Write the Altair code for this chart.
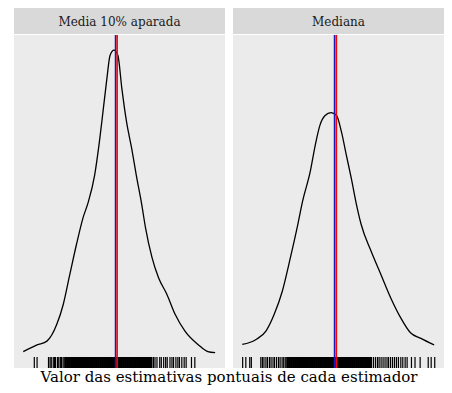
import altair as alt
import pandas as pd

panel_titles = ["Media 10% aparada", "Mediana"]
x_title = "Valor das estimativas pontuais de cada estimador"

true_value = 0.0
mean_estimates = [0.04, 0.045]

dens_left_x = [-2.34, -1.99, -1.74, -1.49, -1.325, -1.16, -0.99, -0.825, -0.70, -0.53,
               -0.41, -0.32, -0.22, -0.14, -0.04, 0.06, 0.16, 0.28, 0.41, 0.525,
               0.66, 0.76, 0.925, 1.09, 1.30, 1.51, 1.76, 2.09, 2.34, 2.525]
dens_left_y = [0.003, 0.019, 0.028, 0.068, 0.116, 0.187, 0.259, 0.322, 0.357, 0.424,
               0.503, 0.574, 0.654, 0.709, 0.722, 0.709, 0.63, 0.55, 0.487, 0.424,
               0.356, 0.298, 0.227, 0.179, 0.14, 0.092, 0.052, 0.02, 0.003, 0.0005]

dens_right_x = [-2.34, -1.99, -1.74, -1.53, -1.325, -1.12, -0.95, -0.81, -0.62, -0.49,
                -0.37, -0.24, -0.09, 0.05, 0.175, 0.30, 0.425, 0.55, 0.675, 0.925,
                1.175, 1.425, 1.675, 1.925, 2.175, 2.525]
dens_right_y = [0.020, 0.032, 0.052, 0.092, 0.147, 0.227, 0.298, 0.362, 0.431, 0.495,
                0.543, 0.566, 0.573, 0.566, 0.527, 0.471, 0.416, 0.356, 0.306, 0.243,
                0.187, 0.131, 0.084, 0.048, 0.035, 0.019]

rug_left = [-2.06, -1.99,
            -1.70, -1.66, -1.63, -1.58, -1.55, -1.52, -1.47, -1.44, -1.40, -1.37, -1.33, -1.30, -1.27,
            -1.25, -1.22, -1.2, -1.17, -1.15, -1.12, -1.1, -1.08, -1.05, -1.03, -1.0, -0.98, -0.95,
            -0.93, -0.9, -0.88, -0.85, -0.83, -0.8, -0.78, -0.75, -0.73, -0.7, -0.68, -0.65, -0.63,
            -0.6, -0.58, -0.55, -0.53, -0.5, -0.48, -0.45, -0.43, -0.4, -0.38, -0.35, -0.33, -0.3,
            -0.28, -0.25, -0.23, -0.2, -0.18, -0.15, -0.13, -0.1, -0.08, -0.05, -0.03, 0.0, 0.02,
            0.05, 0.07, 0.1, 0.12, 0.15, 0.17, 0.2, 0.22, 0.25, 0.27, 0.3, 0.32, 0.35, 0.37, 0.4,
            0.42, 0.45, 0.47, 0.5, 0.52, 0.55, 0.57, 0.6, 0.62, 0.65, 0.67, 0.7, 0.72, 0.75, 0.77,
            0.8, 0.82, 0.85, 0.87, 0.9, 0.92,
            -1.235, -1.21, -1.185, -1.16, -1.135, -1.09, -1.065, -1.04, -1.015, -0.99, -0.965,
            -0.94, -0.915, -0.89, -0.865, -0.84, -0.815, -0.79, -0.765, -0.74, -0.715, -0.69,
            -0.665, -0.64, -0.615, -0.59, -0.565, -0.54, -0.515, -0.49, -0.465, -0.44, -0.415,
            -0.39, -0.365, -0.34, -0.315, -0.29, -0.265, -0.24, -0.215, -0.19, -0.165, -0.14,
            -0.115, -0.09, -0.065, -0.04, -0.015, 0.01, 0.035, 0.06, 0.085, 0.11, 0.135, 0.16,
            0.185, 0.21, 0.235, 0.26, 0.285, 0.31, 0.335, 0.36, 0.385, 0.41, 0.435, 0.46, 0.485,
            0.51, 0.535, 0.56, 0.585, 0.61, 0.635, 0.66, 0.685, 0.71, 0.735, 0.76, 0.785, 0.81,
            0.835, 0.86, 0.885, 0.91,
            0.96, 1.0, 1.05, 1.12, 1.16, 1.22, 1.27, 1.31, 1.38, 1.43, 1.47, 1.53, 1.58, 1.62,
            1.68, 1.74, 1.79,
            1.925, 2.01]

rug_right = [-2.33, -2.25, -2.15, -2.11,
             -1.87, -1.83, -1.79, -1.74, -1.70, -1.65, -1.61, -1.56, -1.52, -1.47, -1.42, -1.38,
             -1.33, -1.29, -1.25,
             -1.21, -1.19, -1.16, -1.14, -1.11, -1.09, -1.06, -1.04, -1.01, -0.99, -0.96, -0.94,
             -0.91, -0.89, -0.86, -0.84, -0.81, -0.79, -0.76, -0.74, -0.71, -0.69, -0.66, -0.64,
             -0.61, -0.59, -0.56, -0.54, -0.51, -0.49, -0.46, -0.44, -0.41, -0.39, -0.36, -0.34,
             -0.31, -0.29, -0.26, -0.24, -0.21, -0.19, -0.16, -0.14, -0.11, -0.09, -0.06, -0.04,
             -0.01, 0.01, 0.04, 0.06, 0.09, 0.11, 0.14, 0.16, 0.19, 0.21, 0.24, 0.26, 0.29, 0.31,
             0.34, 0.36, 0.39, 0.41, 0.44, 0.46, 0.49, 0.51, 0.54, 0.56, 0.59, 0.61, 0.64, 0.66,
             0.69, 0.71, 0.74, 0.76, 0.79, 0.81, 0.84, 0.86, 0.89, 0.91, 0.94,
             -1.2, -1.175, -1.15, -1.125, -1.1, -1.075, -1.05, -1.025, -1.0, -0.975, -0.95,
             -0.925, -0.9, -0.875, -0.85, -0.825, -0.8, -0.775, -0.75, -0.725, -0.7, -0.675,
             -0.65, -0.625, -0.6, -0.575, -0.55, -0.525, -0.5, -0.475, -0.45, -0.425, -0.4,
             -0.375, -0.35, -0.325, -0.3, -0.275, -0.25, -0.225, -0.2, -0.175, -0.15, -0.125,
             -0.1, -0.075, -0.05, -0.025, 0.0, 0.025, 0.05, 0.075, 0.1, 0.125, 0.15, 0.175, 0.2,
             0.225, 0.25, 0.275, 0.3, 0.325, 0.35, 0.375, 0.4, 0.425, 0.45, 0.475, 0.5, 0.525,
             0.55, 0.575, 0.6, 0.625, 0.65, 0.675, 0.7, 0.725, 0.75, 0.775, 0.8, 0.825, 0.85,
             0.875, 0.9, 0.925,
             0.99, 1.04, 1.09, 1.13, 1.18, 1.23, 1.28, 1.33, 1.37, 1.42, 1.47, 1.52, 1.57, 1.62,
             1.68, 1.73, 1.79, 1.84,
             1.95, 2.04, 2.17,
             2.375, 2.45, 2.54]

W = 211
H = 333
STRIP_H = 26
FONT = "DejaVu Serif"


def panel(title, dx, dy, rug, mean_value):
    xs = alt.Scale(domain=[-2.575, 2.775], nice=False, zero=False)
    ys = alt.Scale(domain=[-0.0361, 0.758], nice=False, zero=False)
    dens = alt.Chart(pd.DataFrame({"x": dx, "y": dy})).mark_line(
        color="black", strokeWidth=1.3, interpolate="monotone"
    ).encode(
        x=alt.X("x:Q", scale=xs, axis=None),
        y=alt.Y("y:Q", scale=ys, axis=None),
    )
    rugc = alt.Chart(pd.DataFrame({"x": rug})).mark_rule(
        color="black", strokeWidth=1.2
    ).encode(
        x=alt.X("x:Q", scale=xs, axis=None),
        y=alt.value(H - 11),
        y2=alt.value(H),
    )
    vlines = alt.Chart(pd.DataFrame({"x": [true_value, mean_value],
                                     "c": ["#1A1AB8", "#FF0000"]})).mark_rule(
        strokeWidth=1.6
    ).encode(
        x=alt.X("x:Q", scale=xs, axis=None),
        color=alt.Color("c:N", scale=None, legend=None),
    )
    plot = alt.layer(dens, rugc, vlines).properties(
        width=W, height=H,
        view=alt.ViewBackground(fill="#EBEBEB", stroke=None),
    )
    strip = alt.Chart(pd.DataFrame({"t": [title]})).mark_text(
        font=FONT, fontSize=12, color="#1A1A1A", baseline="middle", align="center"
    ).encode(
        text="t:N",
        x=alt.value(W / 2),
        y=alt.value(STRIP_H / 2 + 0.5),
    ).properties(
        width=W, height=STRIP_H,
        view=alt.ViewBackground(fill="#D9D9D9", stroke=None),
    )
    return alt.vconcat(strip, plot, spacing=0)


left = panel(panel_titles[0], dens_left_x, dens_left_y, rug_left, mean_estimates[0])
right = panel(panel_titles[1], dens_right_x, dens_right_y, rug_right, mean_estimates[1])

chart = alt.hconcat(left, right, spacing=8).properties(
    title=alt.TitleParams(
        text=x_title, orient="bottom", anchor="middle", font=FONT,
        fontSize=15, fontWeight="normal", color="black", offset=1,
    ),
    padding={"left": 6, "top": 0, "right": 0, "bottom": 0},
).configure_view(stroke=None, fill="#EBEBEB")

chart.save("out.html", embed_options={"renderer": "svg", "actions": False})
